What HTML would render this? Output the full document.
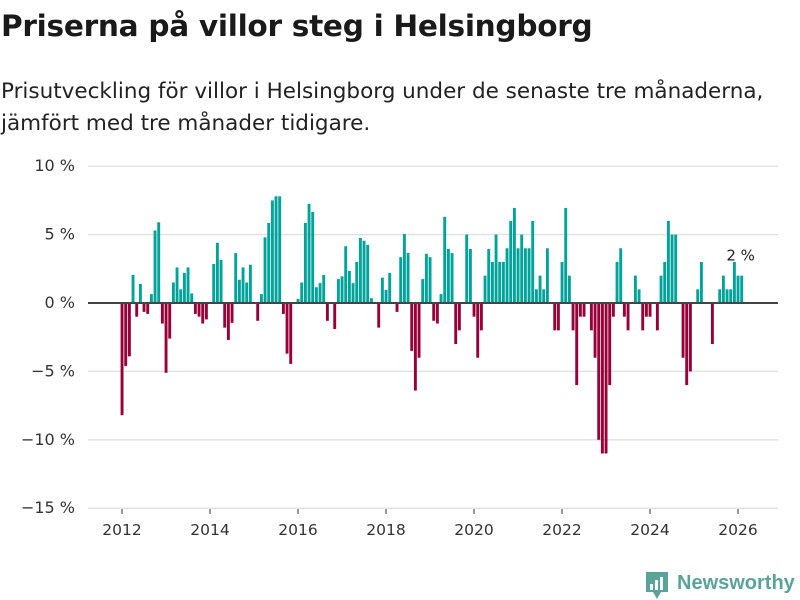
<!DOCTYPE html>
<html><head><meta charset="utf-8">
<style>
body{margin:0;background:#fff;font-family:"Liberation Sans",sans-serif;}
#wrap{position:relative;width:800px;height:600px;overflow:hidden;}
h1{position:absolute;left:1px;top:9px;margin:0;font-family:"DejaVu Sans",sans-serif;font-size:29.6px;font-weight:bold;color:#1a1a1a;letter-spacing:-0.3px;}
.sub{position:absolute;left:1px;top:76px;margin:0;font-family:"DejaVu Sans",sans-serif;font-size:21.5px;line-height:32px;color:#222;}
</style></head><body>
<div id="wrap">
<h1>Priserna på villor steg i Helsingborg</h1>
<p class="sub">Prisutveckling för villor i Helsingborg under de senaste tre månaderna,<br>jämfört med tre månader tidigare.</p>
<svg id="chart" width="800" height="600" style="position:absolute;left:0;top:0"></svg>
</div>
<script>
const startYear = 2012;
const values = [-8.2,-4.6,-3.9,2.05,-1.0,1.4,-0.65,-0.8,0.65,5.3,5.9,-1.5,-5.1,-2.6,1.5,2.6,1.0,2.2,2.6,0.7,-0.8,-1.0,-1.5,-1.2,0,2.85,4.4,3.15,-1.8,-2.7,-1.45,3.65,1.7,2.6,1.5,2.8,0,-1.3,0.65,4.8,5.85,7.5,7.8,7.8,-0.8,-3.7,-4.45,0,0.3,1.5,5.85,
7.25,6.65,1.15,1.45,2.05,-1.3,0,-1.9,1.75,1.95,4.15,2.35,1.45,3.0,4.75,4.55,4.25,0.35,0,-1.8,1.85,0.95,2.2,0,-0.65,3.35,5.05,3.65,-3.5,-6.4,-4.0,1.75,3.6,3.35,-1.3,-1.5,0.65,6.3,3.95,3.65,-3.0,-2.0,0,5.0,3.95,-1.0,-4.0,-2.0,2.0,3.95,3.0,5.0,
3,3,4,6,6.95,4,5,4,4,6,1,2,1,4,0,-2,-2,3,6.95,2,-2,-6,-1,-1,0,-2,-4,-10,-11,-11,-6,-1,3,4,-1,-2,0,2,1,-2,-1,-1,0,-2,2,3,6,5,5,0,-4,-6,
-5,0,1,3,0,0,-3,0,1,2,1,1,3,2,2];
const yTicks = [10,5,0,-5,-10,-15];
const yTickLabels = ["10 %","5 %","0 %","−5 %","−10 %","−15 %"];
const xTicks = [2012,2014,2016,2018,2020,2022,2024,2026];
const lastLabel = "2 %";

const NS="http://www.w3.org/2000/svg";
const svg=document.getElementById('chart');
const x0=122, pxYear=44, plotL=88, plotR=778;
function xScale(i){return x0+i*pxYear/12;}
function xYear(y){return x0+(y-startYear)*pxYear;}
function yScale(v){return 303 - v*13.68;}
function mk(tag,attrs){const e=document.createElementNS(NS,tag);for(const k in attrs)e.setAttribute(k,attrs[k]);svg.appendChild(e);return e;}

yTicks.forEach((t,k)=>{
  if(t!==0){
    const g=mk('line',{x1:plotL,x2:plotR,y1:yScale(t),y2:yScale(t),stroke:'#e0e0e0','stroke-width':1.3});
    
    
  }
  const tx=mk('text',{x:75,y:yScale(t)+5,'text-anchor':'end','font-size':16,fill:'#333','font-family':'DejaVu Sans, sans-serif'});
  tx.textContent=yTickLabels[k];
  
  
});
xTicks.forEach(yr=>{
  const x=xYear(yr);
  const l=mk('line',{x1:x,x2:x,y1:509,y2:514,stroke:'#333','stroke-width':1});
  
  
  const tx=mk('text',{x:x,y:535,'text-anchor':'middle','font-size':15.5,fill:'#333','font-family':'DejaVu Sans, sans-serif'});
  tx.textContent=yr;
  
  
});
values.forEach((v,i)=>{
  if(v===0)return;
  const x=xScale(i);
  const y1=yScale(Math.max(v,0)), y2=yScale(Math.min(v,0));
  const r=mk('rect',{x:x-1.4,y:y1,width:2.9,height:y2-y1,fill:v>0?'#00a39a':'#990038'});
  
  
});
const z=mk('line',{x1:plotL,x2:plotR,y1:yScale(0),y2:yScale(0),stroke:'#444','stroke-width':2});


const li=values.length-1;
const lab=mk('text',{x:xScale(li)-1,y:yScale(values[li])-15,'text-anchor':'middle','font-size':15,fill:'#222','font-family':'DejaVu Sans, sans-serif'});
lab.textContent=lastLabel;



// logo
const lg=mk('g',{});


const p=document.createElementNS(NS,'path');
p.setAttribute('d','M646 572 h22 v20 h-7 l-4 7 l-4 -7 h-7 z');
p.setAttribute('fill','#5aa39a');


lg.appendChild(p);
[[650,584,3,6],[655,580,3,10],[660,577,3,13]].forEach(b=>{
  const r=document.createElementNS(NS,'rect');
  r.setAttribute('x',b[0]);r.setAttribute('y',b[1]);r.setAttribute('width',b[2]);r.setAttribute('height',b[3]);r.setAttribute('fill','#fff');
  
  
  lg.appendChild(r);
});
const lt=document.createElementNS(NS,'text');
lt.setAttribute('x',677);lt.setAttribute('y',589);lt.setAttribute('font-size',20);lt.setAttribute('font-weight','bold');lt.setAttribute('fill','#5aa39a');lt.setAttribute('font-family','Liberation Sans, sans-serif');
lt.textContent='Newsworthy';


lg.appendChild(lt);
</script>
</body></html>
